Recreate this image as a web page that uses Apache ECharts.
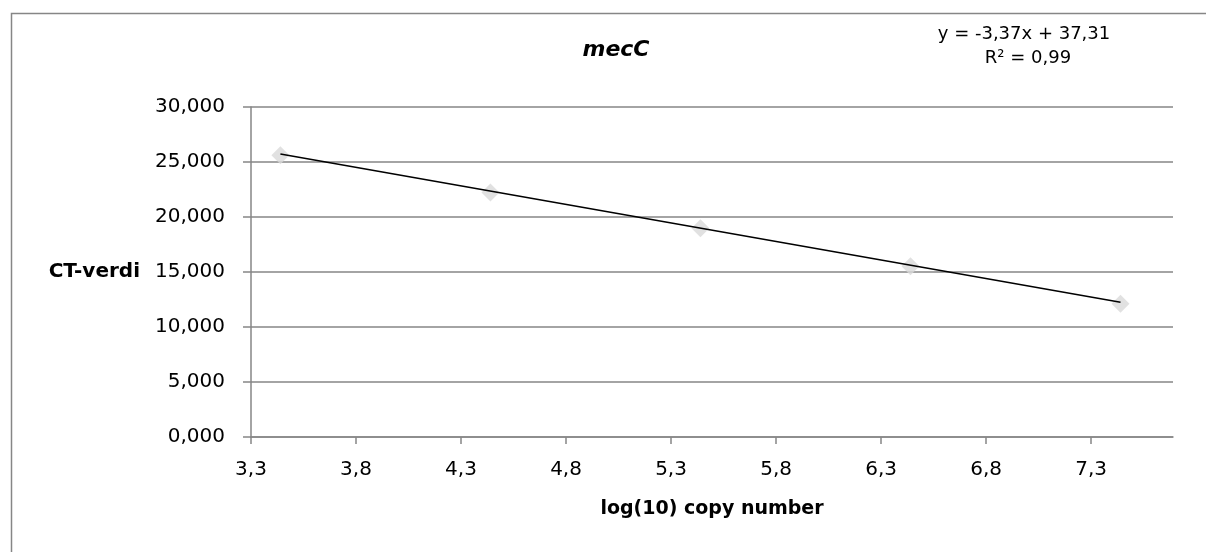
<!DOCTYPE html>
<html>
<head>
    <meta charset="utf-8">
    <title>mecC</title>
    <script src="https://cdn.jsdelivr.net/npm/echarts@6/dist/echarts.min.js"></script>
    <style>
        body { margin: 0; background: #fff; }
    </style>
</head>
<body>
    <div id="main" style="width: 1206px;height:552px;"></div>
    <script type="text/javascript">
        // standard curve points
        var logCopies = [3.44, 4.44, 5.44, 6.44, 7.44]
        var ctValues = [25.62, 22.23, 18.97, 15.53, 12.12]
        // trendline end points (from the printed fit)
        var trendX = [3.44, 7.44]
        var trendY = [25.72, 12.24]
        var xTicks = [3.3, 3.8, 4.3, 4.8, 5.3, 5.8, 6.3, 6.8, 7.3]
        var titleText = 'mecC'
        var eqLine1 = 'y = -3,37x + 37,31'
        var eqLine2 = 'R\u00b2 = 0,99'

        var font = 'DejaVu Sans'
        var gray = '#868686'

        var points = logCopies.map(function (x, i) { return [x, ctValues[i]] })
        var trend = trendX.map(function (x, i) { return [x, trendY[i]] })

        var myChart = echarts.init(document.getElementById('main'))
        var option = {
            animation: false,
            textStyle: { fontFamily: font },
            title: {
                text: titleText,
                left: 611,
                top: 34,
                textAlign: 'center',
                textStyle: {
                    fontFamily: font,
                    fontSize: 22,
                    fontStyle: 'italic',
                    fontWeight: 'bold',
                    color: '#000'
                }
            },
            graphic: [
                {
                    type: 'rect',
                    silent: true,
                    shape: { x: 11.5, y: 13.5, width: 1400, height: 800 },
                    style: { fill: 'none', stroke: gray, lineWidth: 1.5 }
                },
                {
                    type: 'text',
                    x: 1024, y: 34,
                    style: {
                        text: eqLine1, fontFamily: font, fontSize: 18, fill: '#000',
                        align: 'center', verticalAlign: 'middle'
                    }
                },
                {
                    type: 'text',
                    x: 1028, y: 58,
                    style: {
                        text: eqLine2, fontFamily: font, fontSize: 18, fill: '#000',
                        align: 'center', verticalAlign: 'middle'
                    }
                }
            ],
            grid: { left: 251, right: 33, top: 107, bottom: 115 },
            xAxis: {
                type: 'value',
                min: 3.3,
                max: 7.69,
                interval: 0.5,
                name: 'log(10) copy number',
                nameLocation: 'middle',
                nameGap: 63,
                nameTextStyle: { fontFamily: font, fontSize: 19, fontWeight: 'bold', color: '#000' },
                axisLine: { lineStyle: { color: gray, width: 1.5 } },
                axisTick: { show: true, length: 7, customValues: xTicks, lineStyle: { color: gray, width: 1.5 } },
                axisLabel: {
                    customValues: xTicks,
                    margin: 23,
                    fontFamily: font, fontSize: 20, color: '#000',
                    formatter: function (v) { return v.toFixed(1).replace('.', ',') }
                },
                splitLine: { show: false }
            },
            yAxis: {
                type: 'value',
                min: 0,
                max: 30,
                interval: 5,
                name: 'CT-verdi',
                nameLocation: 'middle',
                nameRotate: 0,
                nameGap: 111,
                nameTextStyle: { fontFamily: font, fontSize: 20, fontWeight: 'bold', color: '#000' },
                axisLine: { show: true, lineStyle: { color: gray, width: 1.5 } },
                axisTick: { show: true, length: 8, lineStyle: { color: gray, width: 1.5 } },
                axisLabel: {
                    margin: 26,
                    fontFamily: font, fontSize: 20, color: '#000',
                    formatter: function (v) { return v.toFixed(3).replace('.', ',') }
                },
                splitLine: { lineStyle: { color: gray, width: 1.5 } }
            },
            series: [
                {
                    name: 'CT',
                    type: 'scatter',
                    symbol: 'diamond',
                    symbolSize: 18,
                    itemStyle: { color: '#d9d9d9' },
                    data: points
                },
                {
                    name: 'trend',
                    type: 'line',
                    symbol: 'none',
                    lineStyle: { color: '#000', width: 1.5 },
                    data: trend,
                    z: 3
                }
            ]
        };
        myChart.setOption(option);
    </script>
</body>
</html>
